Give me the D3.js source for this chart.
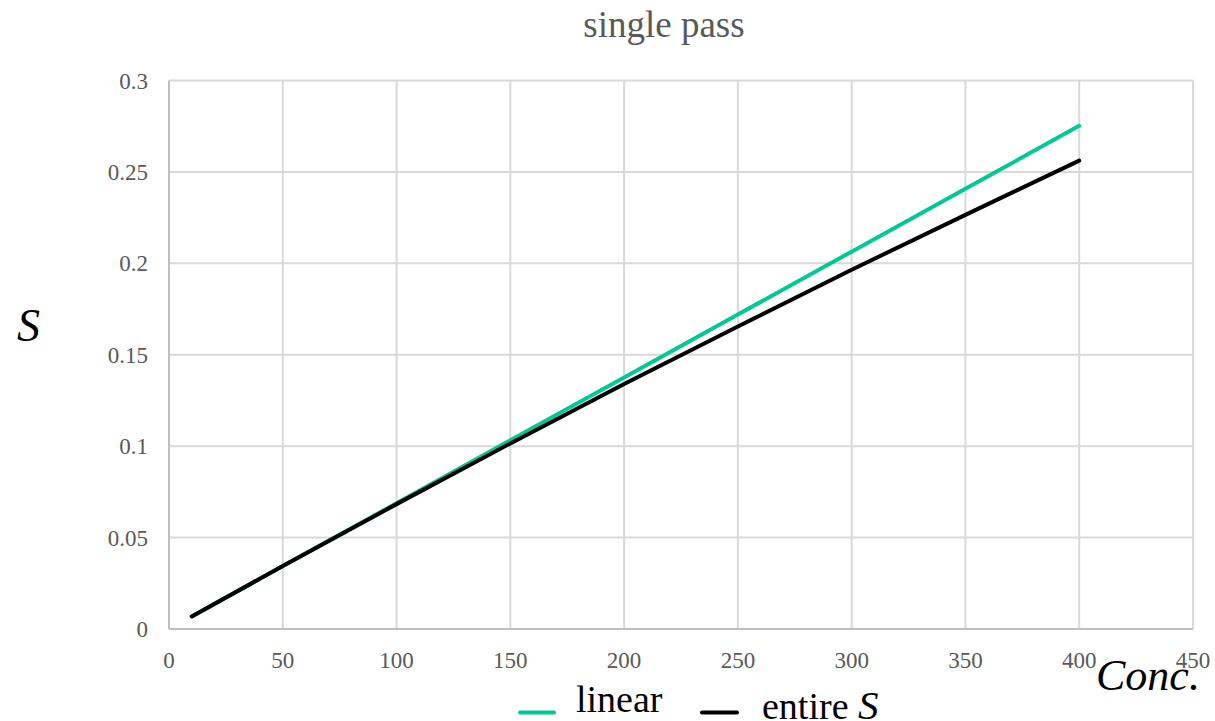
<!DOCTYPE html>
<html><head><meta charset="utf-8">
<script src="https://cdn.jsdelivr.net/npm/d3@7"></script>
<style>body{margin:0;background:#fff}svg{display:block}</style>
</head><body>
<svg id="c" width="1215" height="721"></svg>
<script>
const concs = [10, 50, 100, 150, 200, 250, 300, 350, 400];
const linearS = [0.0069, 0.0344, 0.0688, 0.1032, 0.1376, 0.1720, 0.2064, 0.2408, 0.2752];
const entireS = [0.0069, 0.0344, 0.0683, 0.1015, 0.1340, 0.1655, 0.1965, 0.2265, 0.2562];
const xTicks = [0, 50, 100, 150, 200, 250, 300, 350, 400, 450];
const yTicks = [0, 0.05, 0.1, 0.15, 0.2, 0.25, 0.3];
const yTickLabels = ["0", "0.05", "0.1", "0.15", "0.2", "0.25", "0.3"];

const svg = d3.select("#c");
const font = "'Liberation Serif', 'Times New Roman', serif";
const x = d3.scaleLinear().domain([0, 450]).range([169, 1193]);
const y = d3.scaleLinear().domain([0, 0.3]).range([629, 80.5]);

svg.append("g").selectAll("line").data(xTicks.slice(1)).join("line")
  .attr("x1", d => x(d)).attr("x2", d => x(d)).attr("y1", y(0)).attr("y2", y(0.3))
  .attr("stroke", "#d9d9d9").attr("stroke-width", 2);
svg.append("g").selectAll("line").data(yTicks.slice(1)).join("line")
  .attr("x1", x(0)).attr("x2", x(450)).attr("y1", d => y(d)).attr("y2", d => y(d))
  .attr("stroke", "#d9d9d9").attr("stroke-width", 2);
svg.append("line").attr("x1", x(0)).attr("x2", x(450)).attr("y1", y(0)).attr("y2", y(0))
  .attr("stroke", "#bfbfbf").attr("stroke-width", 2);
svg.append("line").attr("x1", x(0)).attr("x2", x(0)).attr("y1", y(0)).attr("y2", y(0.3))
  .attr("stroke", "#bfbfbf").attr("stroke-width", 2);

svg.append("g").selectAll("text").data(xTicks).join("text")
  .attr("x", d => x(d)).attr("y", 668).attr("text-anchor", "middle")
  .attr("font-family", font).attr("font-size", 23).attr("fill", "#595959").text(d => d);
svg.append("g").selectAll("text").data(yTicks).join("text")
  .attr("x", 148).attr("y", d => y(d) + 8).attr("text-anchor", "end")
  .attr("font-family", font).attr("font-size", 23).attr("fill", "#595959")
  .text((d, i) => yTickLabels[i]);

const line = d3.line().x(d => x(d[0])).y(d => y(d[1]));
svg.append("path").datum(concs.map((c, i) => [c, linearS[i]])).attr("d", line)
  .attr("fill", "none").attr("stroke", "#00c896").attr("stroke-width", 4).attr("stroke-linecap", "round");
svg.append("path").datum(concs.map((c, i) => [c, entireS[i]])).attr("d", line)
  .attr("fill", "none").attr("stroke", "#000").attr("stroke-width", 4).attr("stroke-linecap", "round");

svg.append("text").attr("x", 664).attr("y", 37).attr("text-anchor", "middle")
  .attr("font-family", font).attr("font-size", 37).attr("fill", "#595959").text("single pass");
svg.append("text").attr("x", 17).attr("y", 341)
  .attr("font-family", font).attr("font-size", 46).attr("font-style", "italic").attr("fill", "#000").text("S");
svg.append("text").attr("x", 1096).attr("y", 690)
  .attr("font-family", font).attr("font-size", 44).attr("font-style", "italic").attr("fill", "#000").text("Conc.");

svg.append("line").attr("x1", 520).attr("x2", 554).attr("y1", 712.5).attr("y2", 712.5)
  .attr("stroke", "#00c896").attr("stroke-width", 4).attr("stroke-linecap", "round");
svg.append("text").attr("x", 576).attr("y", 712)
  .attr("font-family", font).attr("font-size", 38).attr("fill", "#000").text("linear");
svg.append("line").attr("x1", 702).attr("x2", 737).attr("y1", 712.5).attr("y2", 712.5)
  .attr("stroke", "#000").attr("stroke-width", 4).attr("stroke-linecap", "round");
const t = svg.append("text").attr("x", 762).attr("y", 719)
  .attr("font-family", font).attr("font-size", 38).attr("fill", "#000");
t.append("tspan").text("entire ");
t.append("tspan").attr("font-style", "italic").attr("font-size", 41).text("S");
</script>
</body></html>
